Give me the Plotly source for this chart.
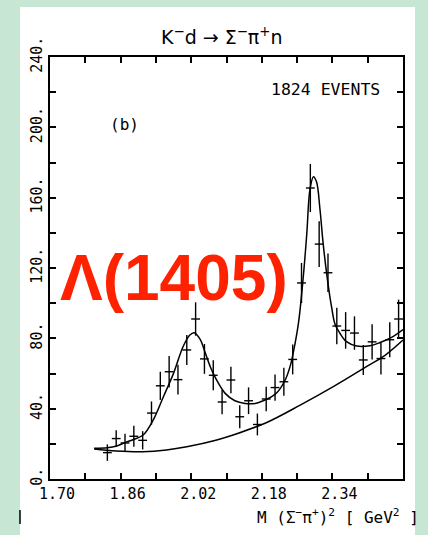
import plotly.graph_objects as go

# ---- data ----
mass2 = [1.83, 1.85, 1.87, 1.89, 1.91, 1.93, 1.95, 1.97, 1.99, 2.01,
         2.03, 2.05, 2.07, 2.09, 2.11, 2.13, 2.15, 2.17, 2.19, 2.21,
         2.23, 2.25, 2.27, 2.29, 2.31, 2.33, 2.35, 2.37, 2.39, 2.41,
         2.43, 2.45, 2.47, 2.49]
events = [15, 23, 20.5, 24.3, 22, 37.5, 53, 61, 56.5, 73.4,
          91, 68.3, 59, 43.8, 56.3, 35.4, 44.5, 31, 45.5, 52,
          55.3, 68, 111.5, 165.5, 133.6, 117.3, 87, 84.5, 83, 67.7,
          78, 68.5, 79.2, 91]
errors = [4.7, 4.7, 5.2, 6, 5.2, 6.6, 8, 9, 8.5, 8.5,
          9.5, 8.5, 8.5, 7, 7.6, 6.6, 7.6, 6.2, 7, 7.5,
          8, 8.5, 11.4, 13.7, 13, 11, 10.4, 10.4, 9.5, 8.5,
          10, 9, 10, 11]
bin_half = 0.01

fit_x = [1.800, 1.830, 1.851, 1.870, 1.890, 1.911, 1.934, 1.957, 1.979, 2.002,
         2.017, 2.027, 2.040, 2.051, 2.063, 2.075, 2.097, 2.119, 2.142, 2.165,
         2.183, 2.200, 2.214, 2.233, 2.244, 2.251, 2.263, 2.274, 2.282, 2.289,
         2.297, 2.304, 2.312, 2.319, 2.329, 2.338, 2.346, 2.357, 2.372, 2.395,
         2.425, 2.447, 2.474, 2.500]
fit_y = [17.5, 17.8, 18.8, 20.7, 22.5, 25.0, 33.6, 46.8, 59.5, 75.5,
         81.9, 83.2, 79.5, 72.4, 64, 57.5, 48.7, 44.5, 43, 43,
         44.5, 46.5, 49, 56.3, 63.9, 71.5, 88.5, 115, 139.7, 164.4,
         171.9, 169, 153, 134, 113, 98, 88, 82.9, 78.1, 75.6,
         75.8, 77.5, 80.5, 85]

bg_x = [1.800, 1.850, 1.910, 1.964, 2.010, 2.078, 2.115, 2.190, 2.267, 2.342,
        2.418, 2.460, 2.500]
bg_y = [17.0, 15.9, 15.5, 16.5, 18.3, 22.2, 25, 32, 42, 52.5,
        64, 70.5, 79]

y_ticks = [0, 40, 80, 120, 160, 200, 240]
y_ticktext = ["0.", "40.", "80.", "120.", "160.", "200.", "240."]
x_ticks = [1.70, 1.86, 2.02, 2.18, 2.34]
x_ticktext = ["1.70", "1.86", "2.02", "2.18", "2.34"]
x_minor = [1.70, 1.78, 1.86, 1.94, 2.02, 2.10, 2.18, 2.26, 2.34, 2.42, 2.50]

# ---- figure ----
W, H = 428, 535
L, R, T, B = 50, 25, 57, 56
pw, ph = W - L - R, H - T - B


def px(xp):
    return (xp - L) / pw


def py(yp):
    return (H - B - yp) / ph


fig = go.Figure()
fig.add_trace(go.Scatter(x=bg_x, y=bg_y, mode="lines", line=dict(color="black", width=1.5, shape="spline"),
                         hoverinfo="skip", showlegend=False))
fig.add_trace(go.Scatter(x=fit_x, y=fit_y, mode="lines", line=dict(color="black", width=1.5, shape="spline"),
                         hoverinfo="skip", showlegend=False))
fig.add_trace(go.Scatter(
    x=mass2, y=events, mode="markers",
    marker=dict(size=1, color="black"),
    error_y=dict(type="data", array=errors, color="black", thickness=1.4, width=0),
    error_x=dict(type="constant", value=bin_half, color="black", thickness=1.4, width=0),
    showlegend=False))

axis_common = dict(showline=True, linecolor="black", linewidth=1.6, mirror="allticks",
                   ticks="inside", ticklen=6, tickwidth=1.5, tickcolor="black",
                   showgrid=False, zeroline=False,
                   tickfont=dict(family="DejaVu Sans Mono", size=15, color="black"))

fig.update_xaxes(range=[1.70, 2.50], tickvals=x_ticks, ticktext=x_ticktext,
                 ticklabelshift=7,
                 minor=dict(tickvals=x_minor, ticks="inside", ticklen=6, tickwidth=1.5, tickcolor="black"),
                 **axis_common)
fig.update_yaxes(range=[0, 240], tickvals=y_ticks, ticktext=y_ticktext, tickangle=-90,
                 minor=dict(dtick=20, tick0=0, ticks="inside", ticklen=6, tickwidth=1.5, tickcolor="black"),
                 **axis_common)

fig.add_shape(type="rect", xref="paper", yref="paper", x0=px(20), x1=px(415), y0=py(540), y1=py(7),
              fillcolor="white", line=dict(width=0), layer="below")
fig.add_shape(type="line", xref="paper", yref="paper", x0=px(20), x1=px(20), y0=py(510), y1=py(524),
              line=dict(color="black", width=1.5))

txt = dict(xref="paper", yref="paper", showarrow=False)
fig.add_annotation(x=px(222), y=py(36), text="K<sup>\u2212</sup>d \u2192 \u03a3<sup>\u2212</sup>\u03c0<sup>+</sup>n",
                   font=dict(family="DejaVu Sans", size=19, color="black"), xanchor="center", yanchor="middle", **txt)
fig.add_annotation(x=px(269), y=py(90), text="1824 EVENTS",
                   font=dict(family="DejaVu Sans Mono", size=16.5, color="black"), xanchor="left", yanchor="middle", **txt)
fig.add_annotation(x=px(108), y=py(124), text="(b)",
                   font=dict(family="DejaVu Sans Mono", size=16, color="black"), xanchor="left", yanchor="middle", **txt)
fig.add_annotation(x=px(174), y=py(278), text="<b>\u039b(1405)</b>",
                   font=dict(family="Liberation Sans", size=64, color="#ff2200"), xanchor="center", yanchor="middle", **txt)
fig.add_annotation(x=px(421), y=py(516),
                   text="M (\u03a3<sup>\u2212</sup>\u03c0<sup>+</sup>)<sup>2</sup> [ GeV<sup>2</sup> ]",
                   font=dict(family="DejaVu Sans Mono", size=16, color="black"), xanchor="right", yanchor="middle", **txt)

fig.update_layout(width=W, height=H, margin=dict(l=L, r=R, t=T, b=B),
                  paper_bgcolor="#c7e6d3", plot_bgcolor="white")

fig.write_html("out.html")
